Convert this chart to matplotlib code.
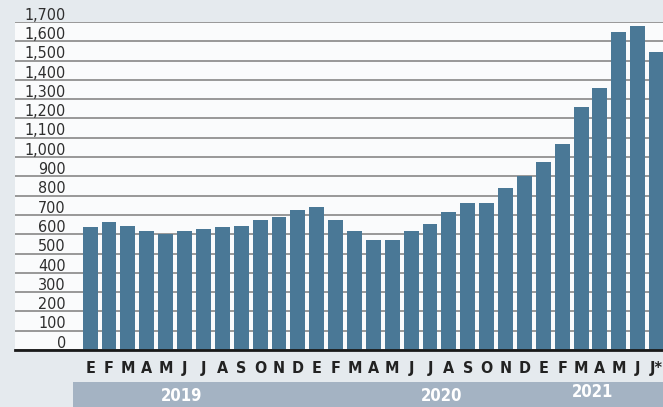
import matplotlib.pyplot as plt
import matplotlib.transforms as mtransforms
from matplotlib.patches import Rectangle

# Valores mensuales (enero 2019 - julio 2021)
meses = ['E', 'F', 'M', 'A', 'M', 'J', 'J', 'A', 'S', 'O', 'N', 'D',
         'E', 'F', 'M', 'A', 'M', 'J', 'J', 'A', 'S', 'O', 'N', 'D',
         'E', 'F', 'M', 'A', 'M', 'J', 'J*']
valores_2019 = [635, 665, 645, 615, 600, 615, 625, 635, 645, 675, 690, 725]
valores_2020 = [740, 675, 615, 570, 570, 615, 655, 715, 760, 760, 840, 900]
valores_2021 = [975, 1070, 1260, 1360, 1650, 1680, 1545]
valores = valores_2019 + valores_2020 + valores_2021

marcas_y = list(range(0, 1800, 100))
anios = ['2019', '2020', '2021']
pos_anios = [4.85, 18.6, 26.6]

fuente = 'DejaVu Sans'
color_barra = '#4a7896'
fondo = '#e5eaee'

fig = plt.figure(figsize=(6.63, 4.07), dpi=100, facecolor=fondo)
ax = fig.add_axes([15 / 663, 57 / 407, 648 / 663, 328 / 407])
ax.set_facecolor('#fafbfc')

x = list(range(len(valores)))
ax.bar(x, valores, width=0.79, color=color_barra, zorder=3)

ax.set_xlim(-3.98, 30.34)
ax.set_ylim(0, 1700)
ax.set_yticks(marcas_y)
ax.yaxis.grid(True, color='#7d7d7d', linewidth=1.1, zorder=1)
ax.tick_params(axis='y', length=0, labelleft=False)
ax.set_xticks(x)
ax.set_xticklabels(meses, family=fuente, fontstretch='condensed', fontweight='bold',
                   fontsize=11.5, color='#222222')
ax.tick_params(axis='x', length=0, pad=8)

for s in ['top', 'right', 'left']:
    ax.spines[s].set_visible(False)
ax.spines['bottom'].set_color('#1a1a1a')
ax.spines['bottom'].set_linewidth(2)
ax.spines['bottom'].set_zorder(4)

# etiquetas del eje y sobre las líneas
for v in marcas_y:
    ax.text(-1.28, v + 12, f'{v:,}', ha='right', va='baseline', family=fuente,
            fontstretch='condensed', fontsize=11.5, color='#2e2e2e', zorder=4)

# banda de años
fig.patches.append(Rectangle((72.7 / 663, 0), 1, 25 / 407, transform=fig.transFigure,
                             facecolor='#a4b3c3', edgecolor='none', zorder=-1))
trans = mtransforms.blended_transform_factory(ax.transData, fig.transFigure)
alturas = [0.026, 0.026, 0.036]
for nombre, px, py in zip(anios, pos_anios, alturas):
    ax.text(px, py, nombre, transform=trans, ha='center', va='center', family=fuente,
            fontstretch='condensed', fontsize=12, fontweight='bold', color='white',
            clip_on=False, zorder=5)

fig.savefig('out.png', dpi=100, facecolor=fondo)
